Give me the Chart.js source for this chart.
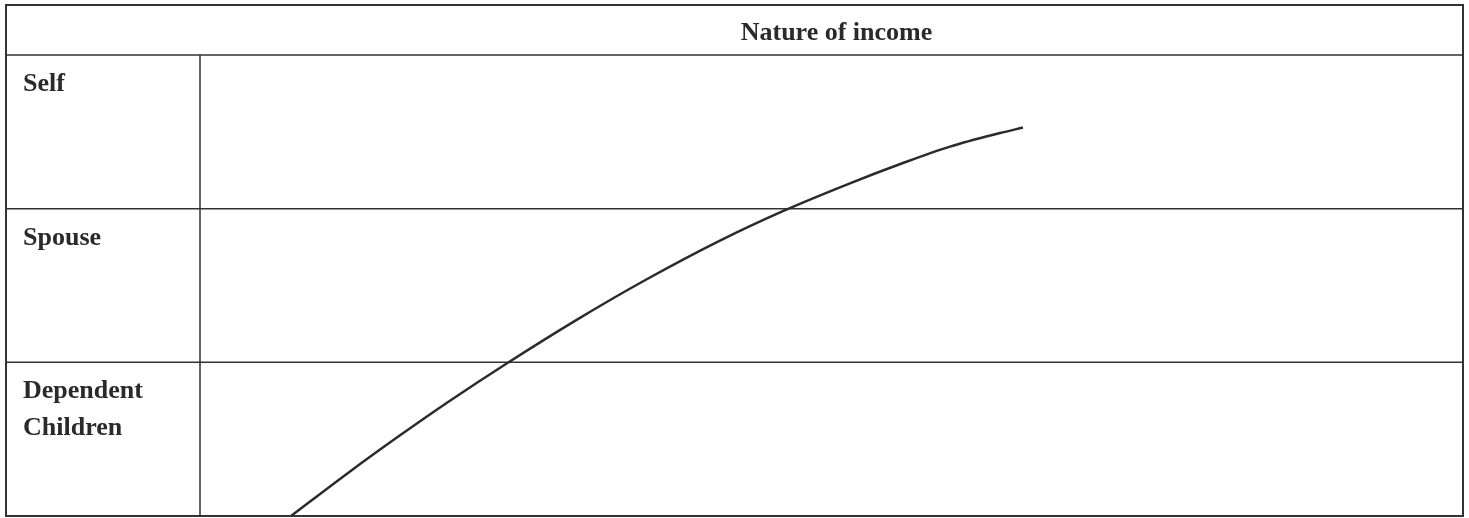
<!DOCTYPE html>
<html>
<head>
<meta charset="utf-8">
<script src="https://cdn.jsdelivr.net/npm/chart.js@4"></script>
<style>
  html, body { margin: 0; padding: 0; background: #fff; }
  #wrap { width: 1469px; height: 518px; }
</style>
</head>
<body>
<div id="wrap"><canvas id="incomeChart" width="1469" height="518"></canvas></div>
<script>
  // texto da tabela
  const headerText = 'Nature of income';
  const rowLabels = [['Self'], ['Spouse'], ['Dependent', 'Children']];
  // limites das linhas (de cima para baixo) no eixo y
  const rowTops = [3, 2, 1];
  const rowLines = [1, 2];

  // curva desenhada à mão (x: 0-100 na largura da coluna, y: 0-3 linhas)
  const curveX = [7.21, 11.88, 15.84, 19.79, 24.31, 29.69, 35.23, 41.17, 46.24, 51.46, 55.66, 59.38, 63.34, 65.16];
  const curveY = [0, 0.29, 0.525, 0.75, 0.994, 1.27, 1.534, 1.792, 1.987, 2.165, 2.297, 2.404, 2.492, 2.528];

  const ink = '#333';
  const labelFont = 'bold 26px "Liberation Serif", "DejaVu Serif", serif';

  // plugin que desenha a grade da tabela e os textos
  const tablePlugin = {
    id: 'tablePlugin',
    beforeDatasetsDraw(chart) {
      const ctx = chart.ctx;
      const area = chart.chartArea;
      const y = chart.scales.y;
      const left = 6;

      ctx.save();
      ctx.strokeStyle = ink;

      // linhas internas
      ctx.lineWidth = 1.5;
      ctx.beginPath();
      ctx.moveTo(left, area.top);
      ctx.lineTo(area.right, area.top);
      rowLines.forEach(v => {
        const py = y.getPixelForValue(v);
        ctx.moveTo(left, py);
        ctx.lineTo(area.right, py);
      });
      ctx.moveTo(area.left, area.top);
      ctx.lineTo(area.left, area.bottom);
      ctx.stroke();

      // borda externa
      ctx.lineWidth = 2;
      ctx.strokeRect(left, 5, area.right - left, area.bottom - 5);

      // textos
      ctx.fillStyle = '#2a2a2a';
      ctx.font = labelFont;
      ctx.textBaseline = 'alphabetic';
      ctx.textAlign = 'center';
      ctx.fillText(headerText, (area.left + area.right) / 2 + 5, 40);

      ctx.textAlign = 'left';
      rowLabels.forEach((lines, i) => {
        const top = y.getPixelForValue(rowTops[i]);
        lines.forEach((txt, j) => {
          ctx.fillText(txt, 23, top + 36 + j * 37);
        });
      });
      ctx.restore();
    }
  };

  const ctx = document.getElementById('incomeChart').getContext('2d');
  new Chart(ctx, {
    type: 'line',
    data: {
      datasets: [{
        data: curveX.map((x, i) => ({ x: x, y: curveY[i] })),
        borderColor: '#2b2b2b',
        borderWidth: 2.5,
        pointRadius: 0,
        cubicInterpolationMode: 'monotone',
        clip: false
      }]
    },
    options: {
      responsive: false,
      animation: false,
      layout: {
        padding: { left: 200, top: 55, right: 6, bottom: 2 }
      },
      scales: {
        x: { type: 'linear', min: 0, max: 100, display: false },
        y: { type: 'linear', min: 0, max: 3, display: false }
      },
      plugins: {
        legend: { display: false },
        tooltip: { enabled: false }
      }
    },
    plugins: [tablePlugin]
  });
</script>
</body>
</html>
